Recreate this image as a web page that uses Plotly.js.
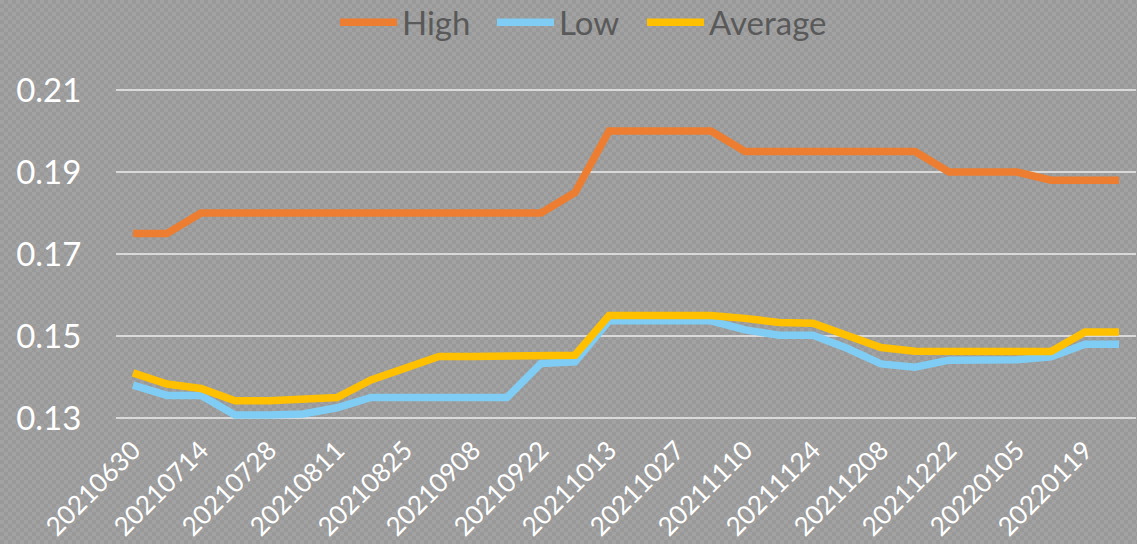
<!DOCTYPE html>
<html>
<head>
<meta charset="utf-8">
<script src="https://cdn.plot.ly/plotly-3.0.1.min.js"></script>
<style>
html,body{margin:0;padding:0;}
body{width:1137px;height:544px;overflow:hidden;
background:repeating-conic-gradient(#999999 0 25%, #a2a2a2 0 50%) 0 0/8px 8px;}
#chart{width:1137px;height:544px;}
</style>
</head>
<body>
<div id="chart"></div>
<script>
const categories = ["20210630","20210707","20210714","20210721","20210728","20210804","20210811","20210818","20210825","20210901","20210908","20210915","20210922","20210929","20211013","20211020","20211027","20211103","20211110","20211117","20211124","20211201","20211208","20211215","20211222","20211229","20220105","20220112","20220119","20220126"];
const highValues = [0.175,0.175,0.18,0.18,0.18,0.18,0.18,0.18,0.18,0.18,0.18,0.18,0.18,0.185,0.20,0.20,0.20,0.20,0.195,0.195,0.195,0.195,0.195,0.195,0.19,0.19,0.19,0.188,0.188,0.188];
const lowValues = [0.138,0.1355,0.1355,0.1307,0.1307,0.131,0.1325,0.135,0.135,0.135,0.135,0.135,0.1433,0.1437,0.1537,0.1537,0.1537,0.1537,0.1515,0.1502,0.1502,0.147,0.1432,0.1424,0.1441,0.1441,0.1442,0.1449,0.148,0.148];
const avgValues = [0.141,0.1383,0.1372,0.1342,0.1342,0.1344,0.135,0.1393,0.142,0.145,0.145,0.145,0.145,0.1453,0.155,0.155,0.155,0.155,0.1543,0.1533,0.1531,0.1502,0.1472,0.1463,0.1462,0.1462,0.1462,0.1462,0.151,0.151];
const tickLabels = categories.filter((c,i)=>i%2===0);

const FONT = "Lato, 'Open Sans', sans-serif";
const traces = [
  {name:"High", legend:"legend", x:categories, y:highValues, type:"scatter", mode:"lines", line:{color:"#ED7D31", width:7.5}},
  {name:"Low", legend:"legend2", x:categories, y:lowValues, type:"scatter", mode:"lines", line:{color:"#7FCDF4", width:7.5}},
  {name:"Average", legend:"legend3", x:categories, y:avgValues, type:"scatter", mode:"lines", line:{color:"#FFC000", width:7.5}}
];
function leg(x){
  return {orientation:"h", x:x, xanchor:"left", y:1.02, yanchor:"middle",
    font:{family:FONT, size:33, color:"#595959"}, bgcolor:"rgba(0,0,0,0)", itemwidth:57};
}
const layout = {
  width:1137, height:544,
  margin:{l:116, r:1, t:30, b:124, pad:0, autoexpand:false},
  paper_bgcolor:"rgba(0,0,0,0)", plot_bgcolor:"rgba(0,0,0,0)",
  font:{family:FONT, color:"#ffffff"},
  showlegend:true,
  legend:leg(0.2147), legend2:leg(0.3686), legend3:leg(0.5157),
  xaxis:{type:"category", categoryorder:"array", categoryarray:categories,
    tickmode:"array", tickvals:tickLabels, ticktext:tickLabels,
    tickangle:-45, tickfont:{family:FONT, size:26, color:"#ffffff"},
    showgrid:false, zeroline:false, showline:false,
    ticks:"", ticklabelstandoff:9, range:[-0.5,29.5]},
  yaxis:{range:[0.12951,0.22463], tick0:0.13, dtick:0.02, tickformat:".2f",
    tickfont:{family:FONT, size:33, color:"#ffffff"},
    showgrid:true, gridcolor:"#d9d9d9", gridwidth:2, zeroline:false, showline:false,
    ticks:"outside", ticklen:27, tickcolor:"rgba(0,0,0,0)"}
};
Plotly.newPlot("chart", traces, layout, {displayModeBar:false, staticPlot:true});
</script>
</body>
</html>
